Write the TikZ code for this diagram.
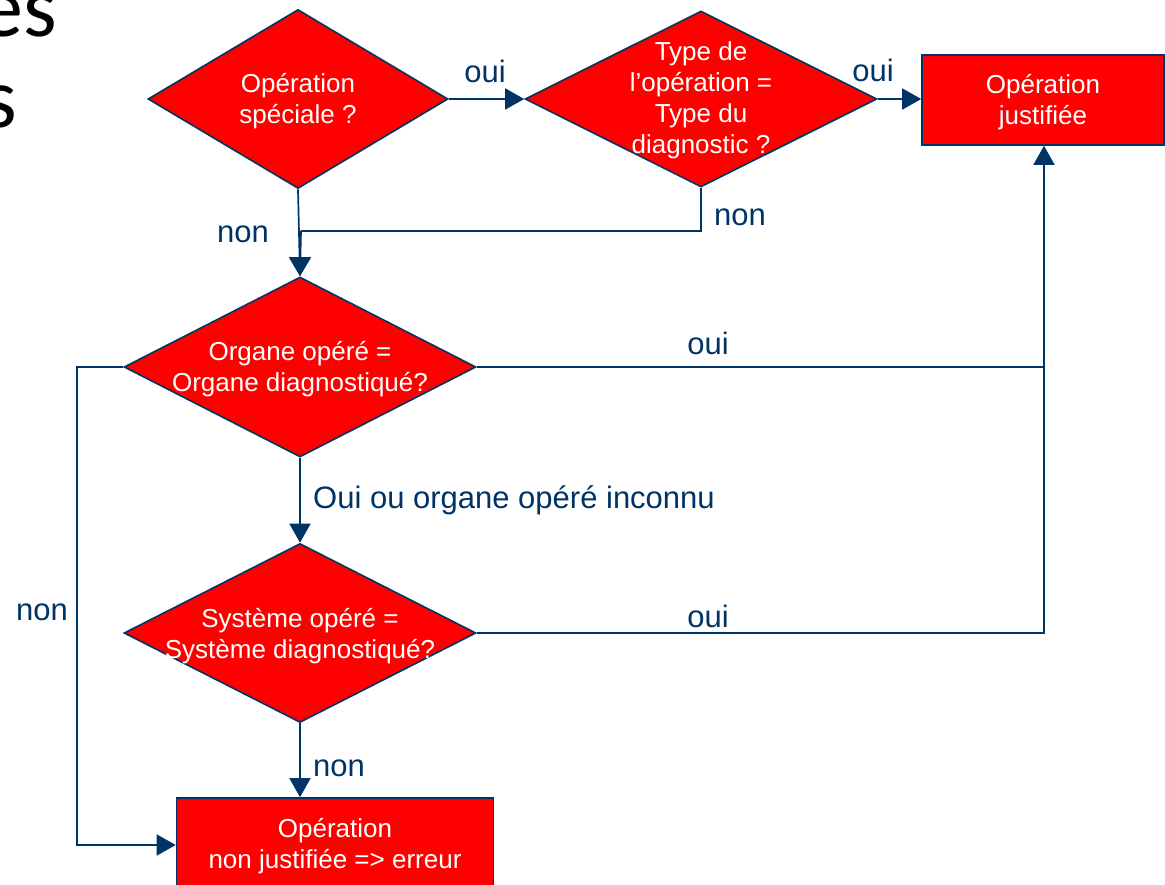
\documentclass[tikz,border=0pt]{standalone}
\usepackage{fontspec}
\setmainfont{Liberation Sans}
\newfontfamily\titlefont{Carlito}
\usetikzlibrary{shapes.geometric,arrows.meta}
\definecolor{navy}{RGB}{0,51,102}
\definecolor{fillred}{RGB}{255,0,0}
\begin{document}
\begin{tikzpicture}[x=1pt,y=-1pt,
 dec/.style={diamond, draw=navy, fill=fillred, line width=1.6pt, inner sep=0pt},
 boxnode/.style={rectangle, draw=navy, fill=fillred, line width=1.6pt, inner sep=0pt},
 ntext/.style={text=white, align=center, inner sep=0pt, font=\fontsize{26}{31}\selectfont},
 lbl/.style={text=navy, inner sep=0pt, font=\fontsize{31}{36}\selectfont},
 ttl/.style={text=black, inner sep=0pt, anchor=base east, font=\titlefont\fontsize{86}{90}\selectfont},
 conn/.style={draw=navy, line width=1.7pt},
 arr/.style={conn, -{Triangle[length=19pt,width=21pt]}}]
\useasboundingbox (0,0) rectangle (1165,885);
\clip (0,0) rectangle (1165,885);
\fill[white] (0,0) rectangle (1165,885);

% title fragments
\node[ttl] (T1) at (57,37) {es};
\node[ttl] (T2) at (17,128) {s};

% shapes
\node[dec, minimum width=300pt, minimum height=179pt] (D1) at (298,99) {};
\node[ntext] (D1t) at (298,101) {Opération\\spéciale ?};
\node[dec, minimum width=352pt, minimum height=176pt] (D2) at (701,99) {};
\node[ntext] (D2t) at (701,100) {Type de\\l’opération =\\Type du\\diagnostic ?};
\node[boxnode, minimum width=242pt, minimum height=90pt] (B1) at (1043,100) {};
\node[ntext] (B1t) at (1043,102) {Opération\\justifiée};
\node[dec, minimum width=352pt, minimum height=180pt] (D3) at (300,367) {};
\node[ntext] (D3t) at (300,369) {Organe opéré =\\Organe diagnostiqué?};
\node[dec, minimum width=352pt, minimum height=179pt] (D4) at (300,633) {};
\node[ntext] (D4t) at (300,636) {Système opéré =\\Système diagnostiqué?};
\node[boxnode, minimum width=317pt, minimum height=94pt] (B2) at (335,845) {};
\node[ntext] (B2t) at (335,846) {Opération\\non justifiée => erreur};

% junction coordinates
\coordinate (K) at (301,231);
\coordinate (J) at (1044,367);
\coordinate (L) at (77,367);

% connectors
\draw[arr] (D1.east) -- (D2.west);
\draw[arr] (D2.east) -- (D2.east -| B1.west);
\draw[arr] (D1.south) -- (D3.north);
\draw[conn] (D2.south) |- (K);
\draw[arr] (K) -- (D3.north);
\draw[arr] (D3.east) -- (J) -- (J |- B1.south);
\draw[conn] (D4.east) -| (J);
\draw[arr] (D3.south) -- (D4.north);
\draw[arr] (D4.south) -- (D4.south |- B2.north);
\draw[arr] (D3.west) -- (L) |- (B2.west);

% labels
\node[lbl, anchor=base] (l1) at (485,83) {oui};
\node[lbl, anchor=base] (l2) at (873,82) {oui};
\node[lbl, anchor=base] (l3) at (243,243) {non};
\node[lbl, anchor=base] (l4) at (740,226) {non};
\node[lbl, anchor=base] (l5) at (708,355) {oui};
\node[lbl, anchor=base] (l6) at (708,627) {oui};
\node[lbl, anchor=base west] (l7) at (313,508) {Oui ou organe opéré inconnu};
\node[lbl, anchor=base west] (l8) at (313,776) {non};
\node[lbl, anchor=base] (l9) at (42,620) {non};
\end{tikzpicture}
\end{document}
